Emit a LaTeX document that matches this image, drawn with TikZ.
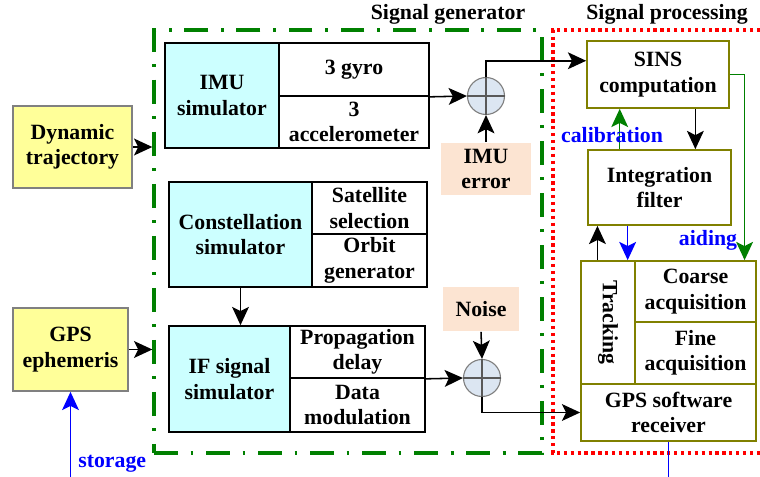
\documentclass[tikz,border=0pt]{standalone}
\usepackage{fontspec}
\setmainfont{Liberation Serif}
\usetikzlibrary{arrows.meta, positioning, calc}

\definecolor{simcyan}{RGB}{204,255,255}
\definecolor{inyellow}{RGB}{255,255,153}
\definecolor{errpeach}{RGB}{252,228,210}
\definecolor{procolive}{RGB}{128,128,0}
\definecolor{sumblue}{RGB}{220,230,242}
\definecolor{gengreen}{RGB}{0,128,0}

\begin{document}
\begin{tikzpicture}[
  x=0.025cm, y=-0.025cm,
  sz/.style 2 args={minimum width=#1*0.025cm, minimum height=#2*0.025cm},
  box/.style={rectangle, draw, line width=1.2pt, inner sep=0pt, align=center,
              font=\bfseries\fontsize{15.5}{18}\selectfont},
  ybox/.style={box, draw=gray, fill=inyellow},
  cbox/.style={box, fill=simcyan},
  wbox/.style={box, fill=white},
  pbox/.style={box, draw=none, fill=errpeach},
  obox/.style={box, draw=procolive, fill=white},
  sumc/.style={circle, draw=gray, fill=sumblue, line width=0.8pt, minimum size=37*0.025cm, inner sep=0pt},
  lbl/.style={font=\bfseries\fontsize{15.5}{18}\selectfont, inner sep=0pt},
  arr/.style={-{Stealth[length=13pt, width=12pt, inset=3pt]}, line width=1.1pt},
  barr/.style={arr, blue},
  garr/.style={arr, gengreen},
  genbox/.style={draw=gengreen, line width=2.4pt,
                 dash pattern=on 17pt off 9pt on 2pt off 9pt},
  procline/.style={draw=red, line width=2.3pt, dash pattern=on 2.3pt off 2.6pt},
]
\useasboundingbox (0,0) rectangle (760,477);

%% ---- frames ----
\node[genbox, sz={388}{423}, inner sep=0pt] (gen) at (348,241.5) {};
\draw[procline] (760,30) -| (553,453) -- (760,453);
\node[lbl] (gentitle)  at (448,14) {Signal generator};
\node[lbl] (proctitle) at (667,14) {Signal processing};

%% ---- inputs ----
\node[ybox, sz={119}{82}] (dyn) at (72.5,147)  {Dynamic\\trajectory};
\node[ybox, sz={115}{83}] (eph) at (70.5,349.5) {GPS\\ephemeris};
\coordinate (store) at (70.5,477);

%% ---- signal generator ----
\node[cbox, sz={114}{105}] (imu)  at (222,95.5)  {IMU\\simulator};
\node[wbox, sz={150}{53}]  (gyro) at (354,69.5)  {3 gyro};
\node[wbox, sz={150}{52}]  (acc)  at (354,122)   {3\\accelerometer};
\node[cbox, sz={143}{105}] (con)  at (240.5,234.5) {Constellation\\simulator};
\node[wbox, sz={115}{52}]  (sat)  at (369.5,208) {Satellite\\selection};
\node[wbox, sz={115}{53}]  (orb)  at (369.5,260.5) {Orbit\\generator};
\node[cbox, sz={121}{106}] (ifs)  at (229.5,379) {IF signal\\simulator};
\node[wbox, sz={135}{52}]  (prop) at (357.5,352) {Propagation\\delay};
\node[wbox, sz={135}{54}]  (dmod) at (357.5,405) {Data\\modulation};

\node[sumc] (sum1) at (486,96) {};
\node[sumc] (sum2) at (482,378) {};
\node[pbox, sz={90}{52}] (imuerr) at (486,169) {IMU\\error};
\node[pbox, sz={76}{44}] (noise)  at (481,309) {Noise};
\draw[gray!70!black, line width=0.8pt] (sum1.north) -- (sum1.south) (sum1.west) -- (sum1.east);
\draw[gray!70!black, line width=0.8pt] (sum2.north) -- (sum2.south) (sum2.west) -- (sum2.east);

%% ---- signal processing ----
\node[obox, sz={142}{67}]  (sins)   at (658,74.5)   {SINS\\computation};
\node[obox, sz={143}{75}]  (intf)   at (659.5,187.5) {Integration\\filter};
\node[obox, sz={54}{123}]  (trk)    at (608,322.5)  {};
\node[lbl, rotate=-90] (trktxt) at (trk.center) {Tracking};
\node[obox, sz={121}{61}]  (coarse) at (695.5,291.5) {Coarse\\acquisition};
\node[obox, sz={121}{62}]  (fine)   at (695.5,353)  {Fine\\acquisition};
\node[obox, sz={175}{57}]  (rcv)    at (668.5,412.5) {GPS software\\receiver};
\coordinate (rcvout) at (668.5,477);

%% ---- connectors ----
\draw[arr]  (dyn.east) -- (dyn.east -| gen.west);
\draw[arr]  (eph.east) -- (eph.east -| gen.west);
\draw[barr] (store) -- node[right, lbl, blue, xshift=5pt, pos=0.15] {storage} (eph.south);
\draw[arr]  (gyro.south east) -- (sum1.west);
\draw[arr]  (imuerr.north) -- (sum1.south);
\draw[arr]  (sum1.north) |- ($(sins.north west)!0.3!(sins.south west)$);
\draw[arr]  (con.south) -- (con.south |- ifs.north);
\draw[arr]  (prop.south east) -- (sum2.west);
\draw[arr]  (noise.south) -- (sum2.north);
\draw[arr]  (sum2.south) |- (rcv.west);

\coordinate (sinsout) at ($(sins.south west)!0.76!(sins.south east)$);
\draw[arr]  (sinsout) -- (sinsout |- intf.north);
\coordinate (calib) at ($(intf.north west)!0.225!(intf.north east)$);
\draw[garr] (calib) -- (calib |- sins.south);
\node[lbl, blue] (calibtxt) at (612,135) {calibration};
\draw[garr] (sins.east) -| ($(coarse.north west)!0.9!(coarse.north east)$);
\node[lbl, blue] (aidtxt) at (708,240) {aiding};
\coordinate (aidin) at ($(intf.south west)!0.28!(intf.south east)$);
\draw[barr] (aidin) -- (aidin |- trk.north);
\coordinate (trkout) at ($(trk.north west)!0.31!(trk.north east)$);
\draw[arr]  (trkout) -- (trkout |- intf.south);
\draw[blue, line width=1.1pt] (rcv.south) -- (rcvout);

\end{tikzpicture}
\end{document}
